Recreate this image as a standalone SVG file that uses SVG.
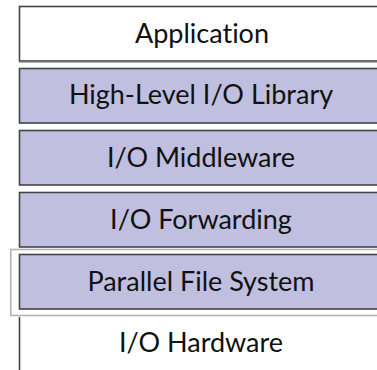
<svg xmlns="http://www.w3.org/2000/svg" width="377" height="370" viewBox="0 0 377 370">
<style>
.box{stroke:#444;stroke-width:1.6}
.lav{fill:#c0bfe0}
.wht{fill:#fff}
.lbl{font-family:"Lato","Open Sans",sans-serif;font-size:27px;fill:#111;text-anchor:middle;font-variant-ligatures:none}
</style>
<rect width="377" height="370" fill="#fff"/>
<g id="application">
<rect class="box wht" x="19.5" y="6.5" width="380" height="54.5"/>
<line x1="19" y1="62.3" x2="377" y2="62.3" stroke="#999" stroke-width="1"/>
<text class="lbl" x="202" y="43">Application</text>
</g>
<g id="high-level-io-library">
<rect class="box lav" x="19.5" y="68.5" width="380" height="54.5"/>
<text class="lbl" x="201" y="104">High-Level I/O Library</text>
</g>
<g id="io-middleware">
<rect class="box lav" x="19.5" y="130.5" width="380" height="54.5"/>
<text class="lbl" x="201" y="167">I/O Middleware</text>
</g>
<g id="io-forwarding">
<rect class="box lav" x="19.5" y="192.5" width="380" height="54.5"/>
<text class="lbl" x="201" y="229">I/O Forwarding</text>
</g>
<g id="parallel-file-system">
<rect x="10.8" y="249.5" width="380" height="66" fill="#fff" stroke="#b4b4b4" stroke-width="1.6"/>
<rect class="box lav" x="19.5" y="254.5" width="380" height="54.5"/>
<text class="lbl" x="201" y="291">Parallel File System</text>
</g>
<g id="io-hardware">
<line class="box" x1="19.5" y1="317" x2="19.5" y2="370"/>
<text class="lbl" x="201" y="352">I/O Hardware</text>
</g>
<g id="connectors"></g>
</svg>
